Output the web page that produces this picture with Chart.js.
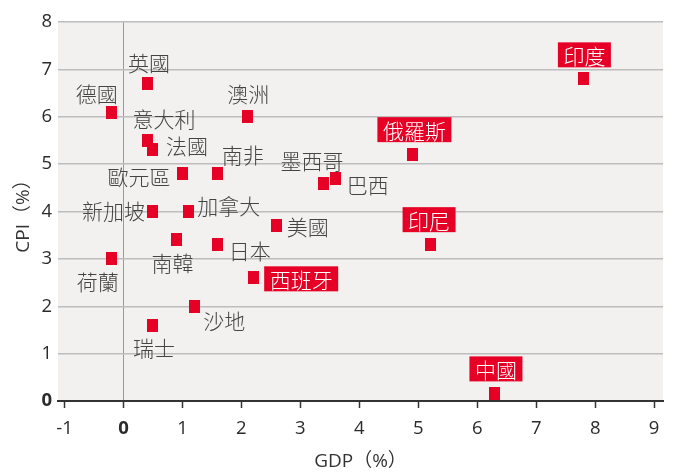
<!DOCTYPE html>
<html lang="zh-Hant">
<head>
    <meta charset="UTF-8">
    <title>GDP vs CPI</title>
    <style>
        html, body { margin: 0; padding: 0; background: #fff; }
        #wrap { width: 674px; height: 473px; position: relative; }
    </style>
</head>
<body>
    <div id="wrap"><canvas id="myChart" width="674" height="473"></canvas></div>

    <script src="https://cdn.jsdelivr.net/npm/chart.js"></script>
    <script>
    // data
    var countries = ['英國', '德國', '澳洲', '意大利', '法國', '南非', '歐元區', '墨西哥', '巴西', '新加坡', '加拿大',
                     '美國', '南韓', '日本', '荷蘭', '西班牙', '沙地', '瑞士', '印度', '俄羅斯', '印尼', '中國'];
    var gdp = [0.4, -0.2, 2.1, 0.4, 0.5, 1.6, 1.0, 3.4, 3.6, 0.5, 1.1,
               2.6, 0.9, 1.6, -0.2, 2.2, 1.2, 0.5, 7.8, 4.9, 5.2, 6.3];
    var cpi = [6.7, 6.1, 6.0, 5.5, 5.3, 4.8, 4.8, 4.6, 4.7, 4.0, 4.0,
               3.7, 3.4, 3.3, 3.0, 2.6, 2.0, 1.6, 6.8, 5.2, 3.3, 0.15];
    var highlighted = ['西班牙', '印度', '俄羅斯', '印尼', '中國'];
    var xTicks = [-1, 0, 1, 2, 3, 4, 5, 6, 7, 8, 9];
    var yTicks = [0, 1, 2, 3, 4, 5, 6, 7, 8];

    var RED = '#e60026';
    var CJK = '"Noto Sans CJK TC", "Noto Sans CJK SC", sans-serif';
    var LATIN = '"Open Sans", "Noto Sans CJK TC", sans-serif';

    // label placement relative to the marker (px): align c = centred, l = starts right of point, r = ends left of point
    var labelPos = {
        '英國': [2, -22, 'c'], '德國': [-15, -19, 'c'], '澳洲': [1, -24, 'c'], '意大利': [17, -22, 'c'],
        '法國': [13, -5, 'l'], '南非': [25, -20, 'c'], '歐元區': [-12, 2, 'r'], '墨西哥': [-12, -23, 'c'],
        '巴西': [11, 6, 'l'], '新加坡': [-8, -1, 'r'], '加拿大': [9, -6, 'l'], '美國': [10, 0, 'l'],
        '南韓': [-4, 22, 'c'], '日本': [11, 5, 'l'], '荷蘭': [-14, 22, 'c'], '西班牙': [11, 1, 'l'],
        '沙地': [30, 14, 'c'], '瑞士': [1, 22, 'c'], '印度': [1, -24, 'c'], '俄羅斯': [2, -25, 'c'],
        '印尼': [-1, -25, 'c'], '中國': [1, -25, 'c']
    };

    // marker: small upright red block
    var marker = document.createElement('canvas');
    marker.width = 11;
    marker.height = 13;
    var mctx = marker.getContext('2d');
    mctx.fillStyle = RED;
    mctx.fillRect(0, 0, 11, 13);

    var plotBg = {
        id: 'plotBg',
        beforeDraw: function(chart) {
            var a = chart.chartArea, ctx = chart.ctx;
            ctx.save();
            ctx.fillStyle = '#f2f1f0';
            ctx.fillRect(a.left, a.top, a.right - a.left, a.bottom - a.top);
            ctx.restore();
        }
    };

    var countryLabels = {
        id: 'countryLabels',
        afterDatasetsDraw: function(chart) {
            var ctx = chart.ctx;
            var meta = chart.getDatasetMeta(0);
            ctx.save();
            ctx.font = '300 21px ' + CJK;
            ctx.textBaseline = 'middle';
            meta.data.forEach(function(pt, i) {
                var name = countries[i];
                var p = labelPos[name] || [0, -22, 'c'];
                var w = ctx.measureText(name).width;
                var hi = highlighted.indexOf(name) >= 0;
                var boxW = hi ? w + 11 : w;
                var left;
                if (p[2] === 'l') left = pt.x + p[0];
                else if (p[2] === 'r') left = pt.x + p[0] - boxW;
                else left = pt.x + p[0] - boxW / 2;
                var cy = pt.y + p[1];
                if (hi) {
                    ctx.fillStyle = RED;
                    ctx.fillRect(left, cy - 12.5, boxW, 25);
                    ctx.fillStyle = '#fff';
                    ctx.textAlign = 'center';
                    ctx.fillText(name, left + boxW / 2, cy + 1);
                } else {
                    ctx.fillStyle = '#444';
                    ctx.textAlign = 'left';
                    ctx.fillText(name, left, cy + 1);
                }
            });
            ctx.restore();
        }
    };

    var points = countries.map(function(c, i) { return { x: gdp[i], y: cpi[i] }; });

    function tickFont(c) {
        return { family: LATIN, size: 18.5, weight: c.tick && c.tick.value === 0 ? 'bold' : 'normal' };
    }

    var ctx = document.getElementById('myChart').getContext('2d');
    window.myChart = new Chart(ctx, {
        type: 'scatter',
        data: {
            datasets: [{
                label: 'GDP / CPI',
                data: points,
                pointStyle: marker,
                pointRadius: 6,
                pointHoverRadius: 6
            }]
        },
        options: {
            responsive: false,
            animation: false,
            events: [],
            layout: { padding: { top: 22, right: 11, left: 0, bottom: 0 } },
            plugins: {
                legend: { display: false },
                tooltip: { enabled: false }
            },
            scales: {
                x: {
                    type: 'linear',
                    min: -1.11,
                    max: 9.15,
                    afterBuildTicks: function(scale) {
                        scale.ticks = xTicks.map(function(v) { return { value: v }; });
                    },
                    afterFit: function(scale) { scale.height = 72; },
                    border: { display: true, color: '#333', width: 2 },
                    grid: {
                        drawOnChartArea: true,
                        color: function(c) { return c.tick && c.tick.value === 0 ? '#9a9a9a' : 'rgba(0,0,0,0)'; },
                        lineWidth: 1,
                        tickColor: '#333',
                        tickLength: 7,
                        tickWidth: 1.5
                    },
                    ticks: {
                        padding: 10,
                        color: '#2b2b2b',
                        maxRotation: 0,
                        font: tickFont
                    },
                    title: {
                        display: true,
                        text: 'GDP（%）',
                        color: '#333',
                        font: { family: LATIN, size: 19 },
                        padding: { top: 0, bottom: 0 }
                    }
                },
                y: {
                    type: 'linear',
                    min: 0,
                    max: 8,
                    afterBuildTicks: function(scale) {
                        scale.ticks = yTicks.map(function(v) { return { value: v }; });
                    },
                    afterFit: function(scale) { scale.width = 58; },
                    border: { display: false },
                    grid: {
                        drawTicks: false,
                        color: function(c) { return c.tick && c.tick.value === 0 ? 'rgba(0,0,0,0)' : '#bdbdbd'; },
                        lineWidth: 1.5
                    },
                    ticks: {
                        padding: 6,
                        color: '#2b2b2b',
                        font: tickFont
                    },
                    title: {
                        display: true,
                        text: 'CPI（%）',
                        color: '#333',
                        font: { family: LATIN, size: 19 },
                        padding: { top: 12, bottom: 0 }
                    }
                }
            }
        },
        plugins: [plotBg, countryLabels]
    });
    </script>
</body>
</html>
